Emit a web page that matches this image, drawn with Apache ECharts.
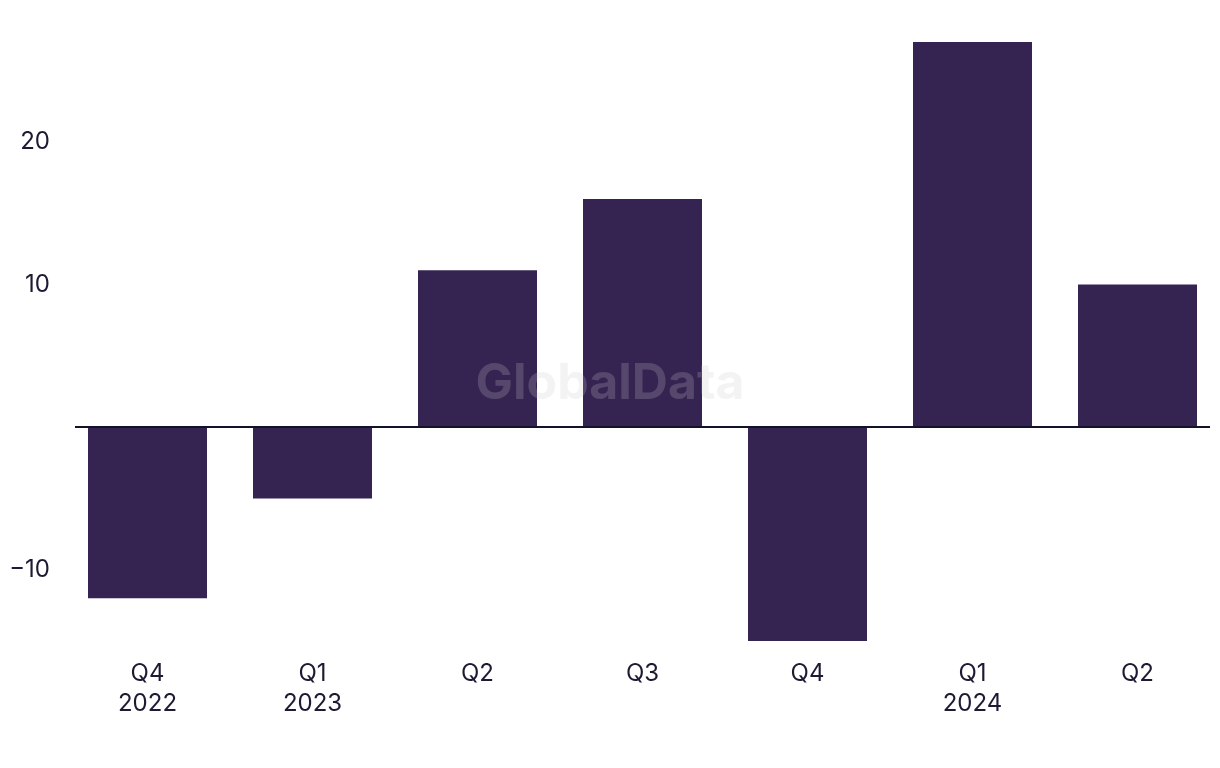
<!DOCTYPE html>
<html>
<head>
<meta charset="utf-8">
<script src="https://cdn.jsdelivr.net/npm/echarts@6/dist/echarts.min.js"></script>
<style>
html,body{margin:0;padding:0;background:#fff;overflow:hidden;}
#chart{width:1220px;height:768px;}
</style>
</head>
<body>
<div id="chart"></div>
<script>
var categories = ['Q4\n2022', 'Q1\n2023', 'Q2', 'Q3', 'Q4', 'Q1\n2024', 'Q2'];
var values = [-12, -5, 11, 16, -15, 27, 10];
var yTickValues = [-10, 10, 20];

var FONT = 'Inter, "Liberation Sans", sans-serif';
var TEXT = '#1c1b33';
var chart = echarts.init(document.getElementById('chart'), null, {renderer: 'canvas'});
chart.setOption({
  animation: false,
  backgroundColor: '#ffffff',
  grid: {left: 65, right: -2, top: 42, bottom: 127, containLabel: false},
  xAxis: {
    type: 'category',
    data: categories,
    axisLine: {show: false},
    axisTick: {show: false},
    axisLabel: {color: TEXT, fontFamily: FONT, fontSize: 24, lineHeight: 30, margin: 18},
    splitLine: {show: false}
  },
  yAxis: {
    type: 'value',
    min: -15,
    max: 27,
    axisLine: {show: false},
    axisTick: {show: false},
    splitLine: {show: false},
    axisLabel: {
      customValues: yTickValues,
      color: TEXT, fontFamily: FONT, fontSize: 24, margin: 15,
      formatter: function (v) { return String(v).replace('-', '\u2212'); }
    }
  },
  series: [{
    type: 'bar',
    data: values,
    barWidth: 119,
    itemStyle: {color: '#352452'}
  }]
});

var y0 = chart.convertToPixel({yAxisIndex: 0}, 0);
chart.setOption({
  graphic: [{
    type: 'line',
    silent: true,
    z: 50,
    shape: {x1: 75, y1: y0, x2: 1210, y2: y0},
    style: {stroke: '#12122a', lineWidth: 2}
  }, {
    type: 'text',
    x: 610,
    y: 384,
    z: 100,
    silent: true,
    style: {
      text: 'GlobalData',
      font: 'bold 50px ' + FONT,
      fill: 'rgba(200,200,200,0.22)',
      align: 'center',
      verticalAlign: 'middle'
    }
  }]
});
</script>
</body>
</html>
